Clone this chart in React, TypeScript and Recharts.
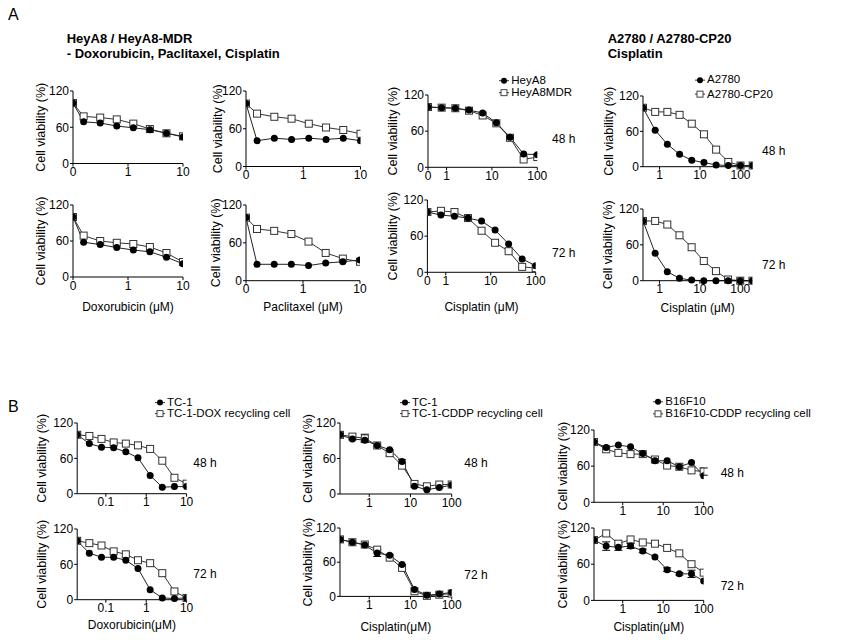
import React from 'react';
import { LineChart, Line, XAxis, YAxis, Legend, ErrorBar } from 'recharts';

const FONT = '"Liberation Sans", Arial, Helvetica, sans-serif';

// ---- doses (µM); 0 = untreated control (drawn at the axis origin) ----
const heyDoxDoses = [0, 0.156, 0.3125, 0.625, 1.25, 2.5, 5, 10];
const heyPtxDoses = [0, 0.156, 0.3125, 0.625, 1.25, 2.5, 5, 10];
const heyCisDoses = [0, 0.78, 1.56, 3.125, 6.25, 12.5, 25, 50, 100];
const a2780Doses = [0, 0.78, 1.56, 3.125, 6.25, 12.5, 25, 50, 100, 200];
const tcDoxDoses = [0, 0.039, 0.078, 0.156, 0.3125, 0.625, 1.25, 2.5, 5, 10];
const cddpDoses = [0, 0.39, 0.78, 1.56, 3.125, 6.25, 12.5, 25, 50, 100];

// ---- series names ----
const heyNames = ['HeyA8', 'HeyA8MDR'];
const a2780Names = ['A2780', 'A2780-CP20'];
const tcDoxNames = ['TC-1', 'TC-1-DOX recycling cell'];
const tcCisNames = ['TC-1', 'TC-1-CDDP recycling cell'];
const b16Names = ['B16F10', 'B16F10-CDDP recycling cell'];

// ---- cell viability (%) ----
const heyA8Dox48 = [100, 69, 67, 62, 59, 56, 50, 44];
const mdrDox48 = [100, 78, 76, 73, 66, 57, 50, 45];
const heyA8Dox72 = [100, 58, 54, 49, 45, 42, 33, 22];
const mdrDox72 = [100, 69, 60, 57, 55, 50, 40, 25];
const heyA8Ptx48 = [100, 41, 45, 43, 45, 43, 45, 41];
const mdrPtx48 = [100, 84, 79, 76, 68, 62, 58, 52];
const heyA8Ptx72 = [100, 26, 26, 26, 24, 28, 30, 33];
const mdrPtx72 = [100, 82, 79, 74, 62, 44, 35, 30];
const heyA8Cis48 = [100, 99, 98, 95, 90, 74, 50, 22, 21];
const mdrCis48 = [100, 99, 98, 94, 86, 73, 49, 13, 17];
const heyA8Cis72 = [100, 95, 93, 90, 85, 70, 47, 22, 11];
const mdrCis72 = [100, 102, 100, 90, 69, 49, 35, 9, 7];
const a2780Cis48 = [100, 62, 38, 21, 11, 7, 3, 2, 2, 2];
const cp20Cis48 = [100, 93, 93, 88, 73, 55, 29, 8, 2, 2];
const a2780Cis72 = [100, 46, 15, 4, 1, 0, 0, 0, 0, 0];
const cp20Cis72 = [100, 100, 94, 76, 56, 33, 16, 2, 0, 0];

const tcDox48 = [100, 85, 79, 78, 71, 61, 31, 11, 12, 12];
const tcDoxR48 = [100, 98, 93, 87, 85, 82, 76, 56, 27, 17];
const tcDox72 = [100, 79, 72, 72, 67, 53, 17, 3, 2, 3];
const tcDoxR72 = [100, 96, 92, 82, 77, 67, 62, 45, 14, 3];
const tcCis48 = [100, 93, 91, 82, 75, 55, 13, 7, 11, 15];
const tcCisR48 = [100, 97, 94, 82, 69, 48, 17, 13, 16, 16];
const tcCis72 = [100, 95, 90, 76, 72, 56, 12, 2, 4, 7];
const tcCisR72 = [100, 95, 91, 82, 68, 50, 9, 1, 3, 5];
const b16Cis48 = [100, 91, 95, 92, 81, 69, 69, 59, 66, 44];
const b16R48 = [100, 88, 82, 80, 80, 71, 61, 59, 53, 51];
const b16Cis72 = [100, 90, 88, 90, 82, 72, 51, 44, 44, 32];
const b16R72 = [100, 111, 94, 101, 96, 94, 87, 78, 60, 46];

// ---- error (SD) ----
const tcCis48Err = [0, 0, 3, 0, 0, 3, 0, 0, 0, 0];
const tcCisR48Err = [0, 0, 7, 0, 0, 0, 0, 0, 0, 0];
const tcCis72Err = [0, 0, 0, 6, 0, 0, 0, 0, 0, 0];
const b16R48Err = [0, 0, 0, 0, 0, 0, 0, 0, 0, 6];
const b16Cis72Err = [0, 7, 5, 4, 3, 0, 3, 2, 6, 0];

// ---- axis ticks ----
const yTicks = [0, 60, 120];
const yDomain = [0, 120];

type Row = { x: number; f: number; o: number; fe: number; oe: number };
function buildRows(doses: number[], origin: number, filled: number[], open: number[], fErr?: number[], oErr?: number[]): Row[] {
  return doses.map((d, i) => ({
    x: d === 0 ? origin : d,
    f: filled[i],
    o: open[i],
    fe: fErr ? fErr[i] : 0,
    oe: oErr ? oErr[i] : 0,
  }));
}

const MT = 16;
const MR = 14;

const OpenSquare = (props: any) => {
  const { cx, cy, index } = props;
  if (cx == null || cy == null) return <g key={`s${index}`} />;
  return <rect key={`s${index}`} x={cx - 3.5} y={cy - 3.5} width={7} height={7} fill="#fff" stroke="#333" strokeWidth={1} />;
};

const LegendContent = (props: any) => {
  const { payload, rowH } = props;
  const items = [...(payload || [])].sort(
    (a: any, b: any) => (a.type === 'circle' ? 0 : 1) - (b.type === 'circle' ? 0 : 1)
  );
  return (
    <div style={{ fontFamily: FONT, fontSize: 11.5, color: '#000', lineHeight: 1 }}>
      {items.map((it: any) => (
        <div key={it.value} style={{ display: 'flex', alignItems: 'center', height: rowH, whiteSpace: 'nowrap' }}>
          <svg width={11} height={rowH} style={{ display: 'block', flex: 'none' }}>
            <line x1={0} x2={10} y1={rowH / 2} y2={rowH / 2} stroke="#333" strokeWidth={1} />
            {it.type === 'circle' ? (
              <circle cx={5} cy={rowH / 2} r={3} fill="#000" />
            ) : (
              <rect x={2} y={rowH / 2 - 3} width={6} height={6} fill="#fff" stroke="#444" strokeWidth={1} />
            )}
          </svg>
          <span style={{ marginLeft: 1 }}>{it.value}</span>
        </div>
      ))}
    </div>
  );
};

type PanelProps = {
  L: number; R: number; T: number; B: number;
  rows: Row[];
  names: string[];
  origin: number; xMax: number; xTicks: number[]; zeroLabel?: boolean;
  yLabelDist: number;
  xLabel?: string; xLabelDist?: number;
  legend?: { x: number; y: number; rowH: number };
  showFErr?: boolean; showOErr?: boolean;
};

const Panel = (p: PanelProps) => {
  const Wy = 2 * p.yLabelDist;
  const Hx = p.xLabel ? 2 * (p.xLabelDist || 28) : 22;
  const left = p.L - Wy;
  const top = p.T - MT;
  const width = Wy + (p.R - p.L) + MR;
  const height = MT + (p.B - p.T) + Hx;
  const fmt = (v: number) => (p.zeroLabel && v === p.origin ? '0' : String(v));
  const tickStyle = { fontSize: 12, fill: '#000', fontFamily: FONT };
  return (
    <div style={{ position: 'absolute', left, top }}>
      <LineChart width={width} height={height} data={p.rows} margin={{ top: MT, right: MR, bottom: 0, left: 0 }}>
        <XAxis
          dataKey="x"
          type="number"
          scale="log"
          domain={[p.origin, p.xMax]}
          allowDataOverflow
          ticks={p.xTicks}
          interval={0}
          tickFormatter={fmt}
          height={Hx}
          tickSize={3}
          tickMargin={1}
          stroke="#000"
          tick={tickStyle}
          label={p.xLabel ? { value: p.xLabel, position: 'center', fontSize: 12, fill: '#000', fontFamily: FONT } : undefined}
        />
        <YAxis
          type="number"
          domain={yDomain}
          ticks={yTicks}
          interval={0}
          width={Wy}
          tickSize={3}
          tickMargin={1}
          stroke="#000"
          tick={tickStyle}
          label={{ value: 'Cell viability (%)', angle: -90, position: 'center', fontSize: 12.5, fill: '#000', fontFamily: FONT }}
        />
        <Line
          dataKey="o"
          name={p.names[1]}
          legendType="square"
          type="linear"
          stroke="#333"
          strokeWidth={1}
          dot={OpenSquare}
          activeDot={false}
          isAnimationActive={false}
        >
          {p.showOErr ? <ErrorBar dataKey="oe" width={4} stroke="#000" strokeWidth={1} direction="y" /> : null}
        </Line>
        <Line
          dataKey="f"
          name={p.names[0]}
          legendType="circle"
          type="linear"
          stroke="#222"
          strokeWidth={1}
          dot={{ r: 3.5, fill: '#000', stroke: '#000', strokeWidth: 0 }}
          activeDot={false}
          isAnimationActive={false}
        >
          {p.showFErr ? <ErrorBar dataKey="fe" width={4} stroke="#000" strokeWidth={1} direction="y" /> : null}
        </Line>
        {p.legend ? (
          <Legend
            layout="vertical"
            align="center"
            verticalAlign="middle"
            wrapperStyle={{
              left: p.legend.x - 5 - left,
              top: p.legend.y - p.legend.rowH / 2 - top,
              width: 'auto',
              height: 'auto',
            }}
            content={(lp: any) => <LegendContent {...lp} rowH={p.legend!.rowH} />}
          />
        ) : null}
      </LineChart>
    </div>
  );
};

const Txt = ({ x, y, size = 12, bold = false, children }: any) => (
  <div
    style={{
      position: 'absolute',
      left: x,
      top: y,
      transform: 'translateY(-50%)',
      fontFamily: FONT,
      fontSize: size,
      fontWeight: bold ? 'bold' : 'normal',
      lineHeight: 1,
      whiteSpace: 'nowrap',
      color: '#000',
    }}
  >
    {children}
  </div>
);

export default function App() {
  return (
    <div style={{ position: 'absolute', left: 0, top: 0, width: 848, height: 640, background: '#fff', overflow: 'hidden' }}>
      <Txt x={8} y={15} size={16}>A</Txt>
      <Txt x={8} y={407} size={16}>B</Txt>
      <Txt x={66.7} y={38.3} size={13} bold>HeyA8 / HeyA8-MDR</Txt>
      <Txt x={66.7} y={53.3} size={13} bold>- Doxorubicin, Paclitaxel, Cisplatin</Txt>
      <Txt x={607.7} y={38.3} size={13} bold>A2780 / A2780-CP20</Txt>
      <Txt x={607.7} y={53.3} size={13} bold>Cisplatin</Txt>

      {/* Panel A, 48 h */}
      <Panel L={73} R={183} T={91} B={163.5} rows={buildRows(heyDoxDoses, 0.1, heyA8Dox48, mdrDox48)} names={heyNames}
        origin={0.1} xMax={10} xTicks={[0.1, 1, 10]} zeroLabel yLabelDist={32} />
      <Panel L={245.5} R={360} T={90.5} B={166} rows={buildRows(heyPtxDoses, 0.1, heyA8Ptx48, mdrPtx48)} names={heyNames}
        origin={0.1} xMax={10} xTicks={[0.1, 1, 10]} zeroLabel yLabelDist={28.5} />
      <Panel L={427.7} R={537} T={95} B={167.3} rows={buildRows(heyCisDoses, 0.39, heyA8Cis48, mdrCis48)} names={heyNames}
        origin={0.39} xMax={100} xTicks={[0.39, 1, 10, 100]} zeroLabel yLabelDist={35}
        legend={{ x: 504.3, y: 81, rowH: 11.3 }} />
      <Panel L={643} R={752.7} T={96} B={166.7} rows={buildRows(a2780Doses, 0.39, a2780Cis48, cp20Cis48)} names={a2780Names}
        origin={0.39} xMax={200} xTicks={[1, 10, 100]} yLabelDist={34.5}
        legend={{ x: 700, y: 80, rowH: 14.3 }} />

      {/* Panel A, 72 h */}
      <Panel L={73} R={183} T={205} B={277} rows={buildRows(heyDoxDoses, 0.1, heyA8Dox72, mdrDox72)} names={heyNames}
        origin={0.1} xMax={10} xTicks={[0.1, 1, 10]} zeroLabel yLabelDist={32} xLabel="Doxorubicin (μM)" xLabelDist={30} />
      <Panel L={245.5} R={359.5} T={205} B={280.7} rows={buildRows(heyPtxDoses, 0.1, heyA8Ptx72, mdrPtx72)} names={heyNames}
        origin={0.1} xMax={10} xTicks={[0.1, 1, 10]} zeroLabel yLabelDist={30.5} xLabel="Paclitaxel (μM)" xLabelDist={26.3} />
      <Panel L={427.7} R={536} T={200} B={272.3} rows={buildRows(heyCisDoses, 0.39, heyA8Cis72, mdrCis72)} names={heyNames}
        origin={0.39} xMax={100} xTicks={[0.39, 1, 10, 100]} zeroLabel yLabelDist={34.7} xLabel="Cisplatin (μM)" xLabelDist={34.4} />
      <Panel L={643.3} R={752.7} T={209} B={280.7} rows={buildRows(a2780Doses, 0.39, a2780Cis72, cp20Cis72)} names={a2780Names}
        origin={0.39} xMax={200} xTicks={[1, 10, 100]} yLabelDist={35} xLabel="Cisplatin (μM)" xLabelDist={26.6} />

      <Txt x={552} y={139}>48 h</Txt>
      <Txt x={762} y={151}>48 h</Txt>
      <Txt x={552} y={253}>72 h</Txt>
      <Txt x={762} y={265}>72 h</Txt>

      {/* Panel B */}
      <Panel L={77.3} R={186.7} T={423.3} B={494} rows={buildRows(tcDoxDoses, 0.0195, tcDox48, tcDoxR48)} names={tcDoxNames}
        origin={0.0195} xMax={10} xTicks={[0.1, 1, 10]} yLabelDist={35.6}
        legend={{ x: 160, y: 402.3, rowH: 11.2 }} />
      <Panel L={77.3} R={186.7} T={529.3} B={600} rows={buildRows(tcDoxDoses, 0.0195, tcDox72, tcDoxR72)} names={tcDoxNames}
        origin={0.0195} xMax={10} xTicks={[0.1, 1, 10]} yLabelDist={35.6} xLabel="Doxorubicin(μM)" xLabelDist={25} />
      <Panel L={340} R={451.7} T={423.3} B={494.3} rows={buildRows(cddpDoses, 0.195, tcCis48, tcCisR48, tcCis48Err, tcCisR48Err)} names={tcCisNames}
        origin={0.195} xMax={100} xTicks={[1, 10, 100]} yLabelDist={32} showFErr showOErr
        legend={{ x: 405, y: 402.3, rowH: 11.2 }} />
      <Panel L={340} R={451.7} T={528.3} B={596.7} rows={buildRows(cddpDoses, 0.195, tcCis72, tcCisR72, tcCis72Err)} names={tcCisNames}
        origin={0.195} xMax={100} xTicks={[1, 10, 100]} yLabelDist={32} showFErr xLabel="Cisplatin(μM)" xLabelDist={30} />
      <Panel L={594.3} R={704} T={430} B={502.3} rows={buildRows(cddpDoses, 0.195, b16Cis48, b16R48, undefined, b16R48Err)} names={b16Names}
        origin={0.195} xMax={100} xTicks={[1, 10, 100]} yLabelDist={31.5} showOErr
        legend={{ x: 658.3, y: 401.7, rowH: 11.6 }} />
      <Panel L={594.3} R={704} T={528.3} B={600.7} rows={buildRows(cddpDoses, 0.195, b16Cis72, b16R72, b16Cis72Err)} names={b16Names}
        origin={0.195} xMax={100} xTicks={[1, 10, 100]} yLabelDist={31.5} showFErr xLabel="Cisplatin(μM)" xLabelDist={26.6} />

      <Txt x={193.3} y={462.7}>48 h</Txt>
      <Txt x={193.3} y={574.3}>72 h</Txt>
      <Txt x={464.3} y={462.7}>48 h</Txt>
      <Txt x={464.3} y={575}>72 h</Txt>
      <Txt x={720.7} y={473.3}>48 h</Txt>
      <Txt x={720.7} y={586}>72 h</Txt>
    </div>
  );
}
